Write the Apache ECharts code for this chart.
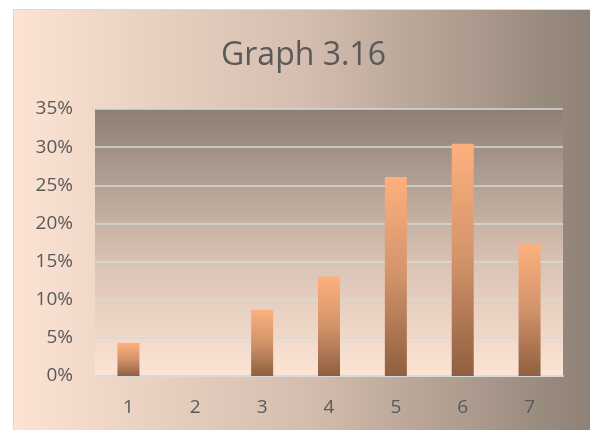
<!DOCTYPE html>
<html>
<head>
<meta charset="utf-8">
<style>
  html, body { margin: 0; padding: 0; background: #ffffff; }
  #chart { width: 590px; height: 430px; }
</style>
<script src="https://cdn.jsdelivr.net/npm/echarts@6/dist/echarts.min.js"></script>
</head>
<body>
<div id="chart"></div>
<script>
// Categories along the x axis
const categories = ['1', '2', '3', '4', '5', '6', '7'];
// Share of responses per category, in percent
const shares = [4.35, 0, 8.70, 13.04, 26.09, 30.43, 17.39];
// Y axis scale (percent)
const yMin = 0;
const yMax = 35;
const yStep = 5;
const titleText = 'Graph 3.16';

const labelColor = '#595959';
const fontFamily = '"Open Sans", "Noto Sans", sans-serif';

const chart = echarts.init(document.getElementById('chart'), null, { renderer: 'canvas' });

chart.setOption({
  backgroundColor: '#ffffff',
  animation: false,
  graphic: [{
    type: 'rect',
    z: -10,
    silent: true,
    shape: { x: 13.5, y: 9.5, width: 590, height: 430 },
    style: {
      fill: new echarts.graphic.LinearGradient(0, 0, 1, 0, [
        { offset: 0, color: '#fce3d4' },
        { offset: 0.5, color: '#d4bdae' },
        { offset: 1, color: '#8b7e73' }
      ]),
      stroke: '#d9d9d9',
      lineWidth: 1
    }
  }],
  title: {
    text: titleText,
    left: 221,
    top: 40,
    padding: 0,
    textStyle: {
      fontFamily: fontFamily,
      fontSize: 32,
      fontWeight: 'normal',
      color: labelColor
    }
  },
  grid: {
    left: 95,
    top: 109,
    right: 27,
    bottom: 54,
    show: true,
    borderWidth: 0,
    backgroundColor: new echarts.graphic.LinearGradient(0, 0, 0, 1, [
      { offset: 0, color: '#8c7f75' },
      { offset: 0.3, color: '#b5a395' },
      { offset: 0.6, color: '#dcc5b6' },
      { offset: 1, color: '#fde4d5' }
    ])
  },
  xAxis: {
    type: 'category',
    data: categories,
    axisLine: { show: true, lineStyle: { color: '#d9d9d9', width: 2 } },
    axisTick: { show: false },
    axisLabel: {
      margin: 22,
      color: labelColor,
      fontFamily: fontFamily,
      fontSize: 19
    }
  },
  yAxis: {
    type: 'value',
    min: yMin,
    max: yMax,
    interval: yStep,
    axisLine: { show: false },
    axisTick: { show: false },
    splitLine: { show: true, lineStyle: { color: '#d9d9d9', width: 1.5 } },
    axisLabel: {
      margin: 22,
      formatter: '{value}%',
      color: labelColor,
      fontFamily: fontFamily,
      fontSize: 19
    }
  },
  series: [{
    type: 'bar',
    data: shares,
    barWidth: 22,
    itemStyle: {
      color: new echarts.graphic.LinearGradient(0, 0, 0, 1, [
        { offset: 0, color: '#fdb07d' },
        { offset: 0.5, color: '#d2936a' },
        { offset: 1, color: '#8f5f3f' }
      ])
    }
  }]
});
</script>
</body>
</html>
